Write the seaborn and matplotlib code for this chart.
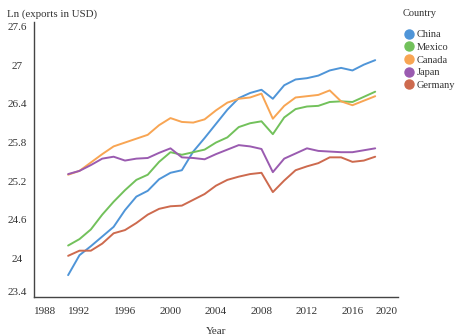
import numpy as np
import pandas as pd
import seaborn as sns
import matplotlib.pyplot as plt
from matplotlib.lines import Line2D

# dados (ln das exportacoes em USD)
anos = list(range(1991, 2019))

china = [23.74, 24.05, 24.19, 24.34, 24.49, 24.75, 24.96, 25.05, 25.23, 25.33,
         25.37, 25.66, 25.87, 26.09, 26.31, 26.49, 26.57, 26.62, 26.48, 26.69,
         26.78, 26.80, 26.84, 26.92, 26.96, 26.92, 27.01, 27.08]
mexico = [24.20, 24.30, 24.45, 24.68, 24.88, 25.06, 25.22, 25.30, 25.50, 25.65,
          25.61, 25.65, 25.69, 25.80, 25.88, 26.04, 26.10, 26.13, 25.93, 26.19,
          26.32, 26.36, 26.37, 26.43, 26.44, 26.43, 26.51, 26.59]
canada = [25.30, 25.36, 25.49, 25.62, 25.74, 25.80, 25.86, 25.92, 26.07, 26.18,
          26.12, 26.11, 26.16, 26.30, 26.42, 26.48, 26.50, 26.56, 26.17, 26.37,
          26.50, 26.52, 26.54, 26.61, 26.44, 26.38, 26.45, 26.52]
japao = [25.31, 25.36, 25.45, 25.55, 25.58, 25.52, 25.55, 25.56, 25.64, 25.71,
         25.57, 25.56, 25.54, 25.62, 25.69, 25.76, 25.74, 25.70, 25.34, 25.55,
         25.63, 25.71, 25.67, 25.66, 25.65, 25.65, 25.68, 25.71]
alemanha = [24.04, 24.12, 24.12, 24.23, 24.39, 24.44, 24.55, 24.68, 24.77, 24.81,
            24.82, 24.91, 25.00, 25.13, 25.22, 25.27, 25.31, 25.33, 25.03, 25.21,
            25.37, 25.43, 25.48, 25.57, 25.57, 25.50, 25.52, 25.58]

paises = ['China', 'Mexico', 'Canada', 'Japan', 'Germany']
cores = ['#4f95d8', '#72c15b', '#f8a553', '#9a5bb0', '#cd6a4e']

# monta o dataframe em formato longo
df = pd.DataFrame({
    'ano': anos * 5,
    'valor': china + mexico + canada + japao + alemanha,
    'pais': sum([[p] * len(anos) for p in paises], []),
})

sns.set_style('white')
plt.rcParams['font.family'] = ['Liberation Serif', 'DejaVu Serif']

fig = plt.figure(figsize=(4.69, 3.36), dpi=100)
ax = fig.add_axes([0.0725, 0.116, 0.776, 0.818])

sns.lineplot(data=df, x='ano', y='valor', hue='pais', hue_order=paises,
             palette=cores, linewidth=1.4, legend=False, ax=ax)

ax.set_xlim(1988, 2020)
ax.set_ylim(23.4, 27.67)
ax.set_xticks(range(1988, 2021, 4))
ax.set_yticks([23.4, 24, 24.6, 25.2, 25.8, 26.4, 27, 27.6])
ax.set_yticklabels(['23.4', '24', '24.6', '25.2', '25.8', '26.4', '27', '27.6'])

for s in ['top', 'right']:
    ax.spines[s].set_visible(False)
for s in ['left', 'bottom']:
    ax.spines[s].set_color('#444444')
    ax.spines[s].set_linewidth(1.0)

ax.tick_params(axis='y', direction='in', length=3, width=0.8, color='#444444',
               labelsize=8, labelcolor='#333333', pad=12)
ax.tick_params(axis='x', length=0, labelsize=8, labelcolor='#333333', pad=7)

xt = ax.get_xticklabels()
xt[0].set_horizontalalignment('left')
xt[-1].set_horizontalalignment('right')
for t in ax.get_yticklabels():
    t.set_horizontalalignment('center')
ax.get_yticklabels()[0].set_verticalalignment('bottom')

ax.set_xlabel('Year', fontsize=8, color='#333333', labelpad=8)
ax.set_ylabel('')
fig.text(0.015, 0.958, 'Ln (exports in USD)', fontsize=7.8, color='#333333', va='center')

# legenda com circulos (titulo separado para dar o espaco do original)
fig.text(403 / 469, 1 - 14 / 336, 'Country', fontsize=7.5, color='#333333', va='center')
handles = [Line2D([], [], marker='o', linestyle='', markersize=6.5, color=c) for c in cores]
leg = fig.legend(handles, paises, loc='upper left',
                 bbox_to_anchor=(0.85, 1 - 26 / 336), frameon=False, fontsize=7.5,
                 handletextpad=0.1, labelspacing=0.32,
                 borderaxespad=0, handlelength=1.2)
for t in leg.get_texts():
    t.set_color('#333333')

fig.savefig('out.png', dpi=100)
